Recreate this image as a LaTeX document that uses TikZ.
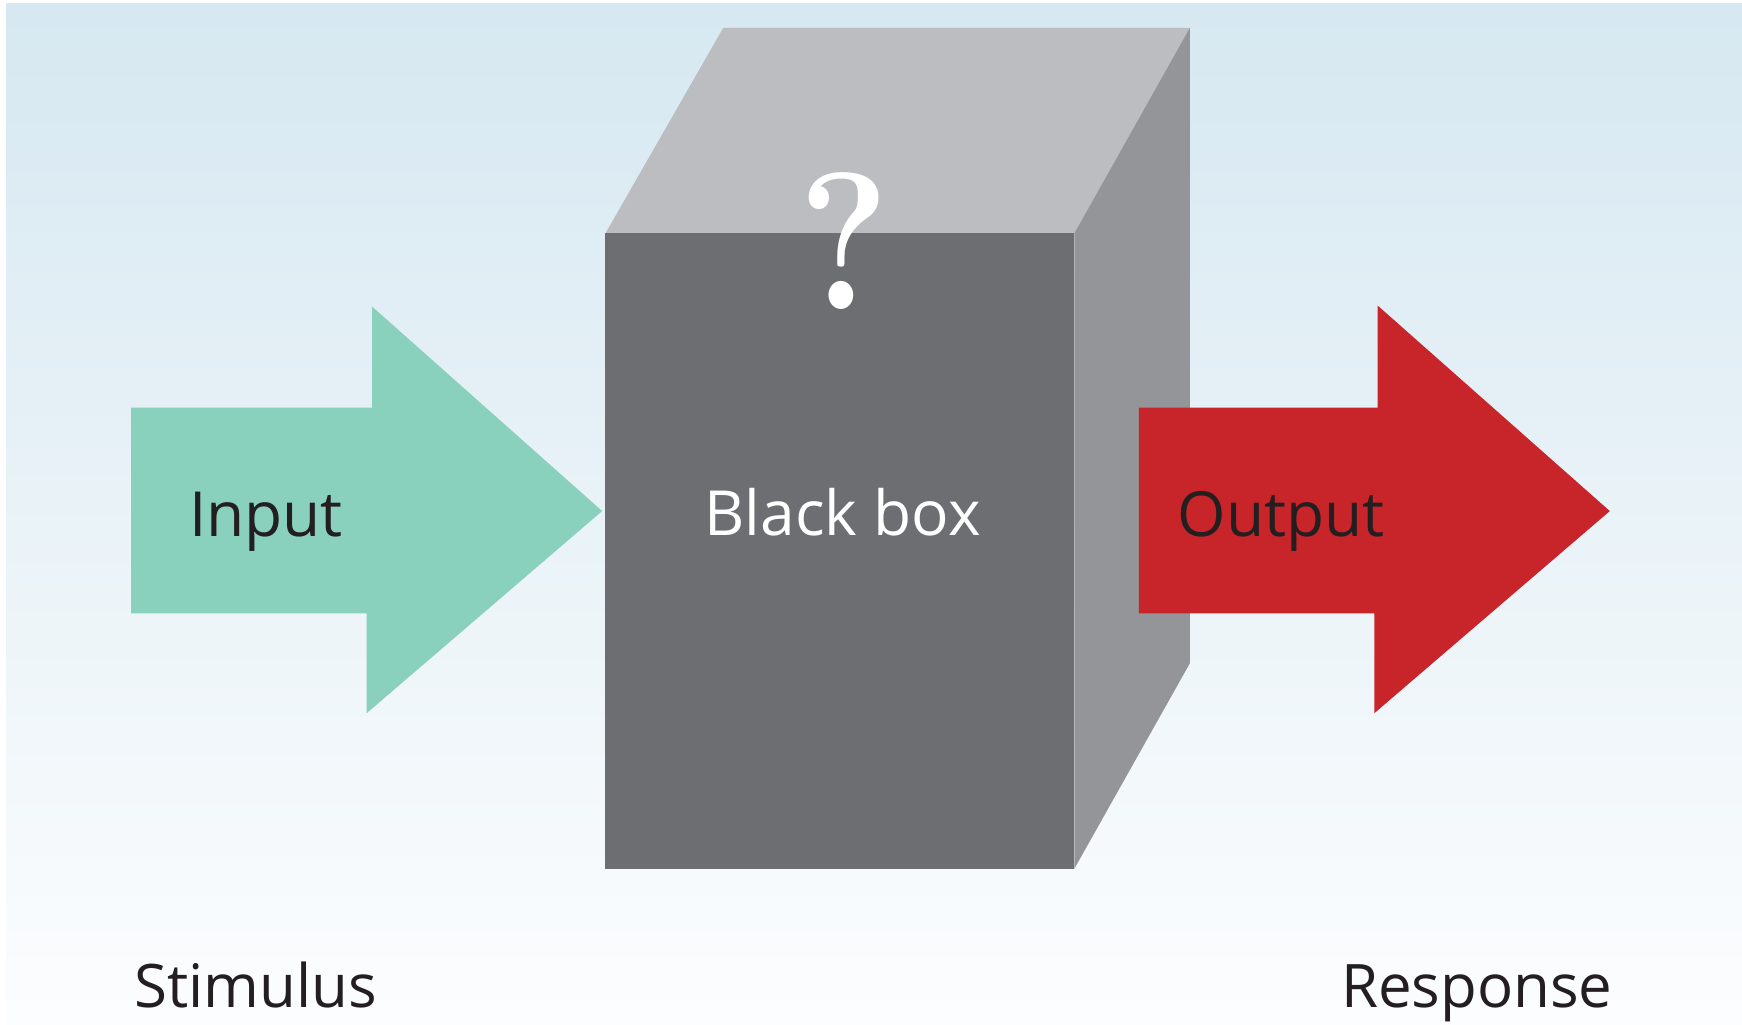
\documentclass[tikz,border=0pt]{standalone}
\usepackage{fontspec}
\setmainfont{Open Sans}
\newfontfamily\qfont{Latin Modern Roman}
\definecolor{bgtop}{HTML}{D6E8F1}
\definecolor{bgbot}{HTML}{FCFDFE}
\definecolor{topface}{HTML}{BCBDC1}
\definecolor{frontface}{HTML}{6D6E72}
\definecolor{sideface}{HTML}{949599}
\definecolor{mint}{HTML}{89D0BD}
\definecolor{outred}{HTML}{C8252B}
\definecolor{ink}{HTML}{231F20}
\tikzset{
  label text/.style={anchor=base west, inner sep=0pt, font=\fontsize{56}{60}\selectfont, text=ink},
  caption text/.style={label text, font=\fontsize{54}{58}\selectfont},
}
\begin{document}
\begin{tikzpicture}[x=1pt,y=-1pt]
  \useasboundingbox (0,0) rectangle (1568,922);
  % backdrop
  \fill[white] (0,0) rectangle (1568,922);
  \shade[top color=bgtop, bottom color=bgbot] (6,3) rectangle (1568,922);

  % input arrow
  \fill[mint] (118,367) -- (335,367) -- (335,276) -- (542,460) -- (330,642)
    -- (330,552) -- (118,552) -- cycle;

  % the box: top, side and front faces
  \fill[topface] (651,25) -- (1071,25) -- (967,210) -- (545,210) -- cycle;
  \fill[sideface] (967,210) -- (1071,25) -- (1071,597) -- (967,782) -- cycle;
  \fill[frontface] (545,210) rectangle (967,782);

  % output arrow
  \fill[outred] (1025,367) -- (1240,367) -- (1240,275) -- (1449,460) -- (1237,642)
    -- (1237,552) -- (1025,552) -- cycle;

  % labels
  \node[anchor=center, inner sep=0pt, text=white, xscale=0.88,
        font=\qfont\bfseries\fontsize{176}{176}\selectfont]
    (qmark) at (760,217) {?};
  \node[label text] (input) at (170,483) {Input};
  \node[label text, text=white] (blackbox) at (634,482) {Black box};
  \node[label text] (output) at (1060,483) {Output};
  \node[caption text] (stimulus) at (121,907) {Stimulus};
  \node[caption text] (response) at (1207,907) {Response};
\end{tikzpicture}
\end{document}
